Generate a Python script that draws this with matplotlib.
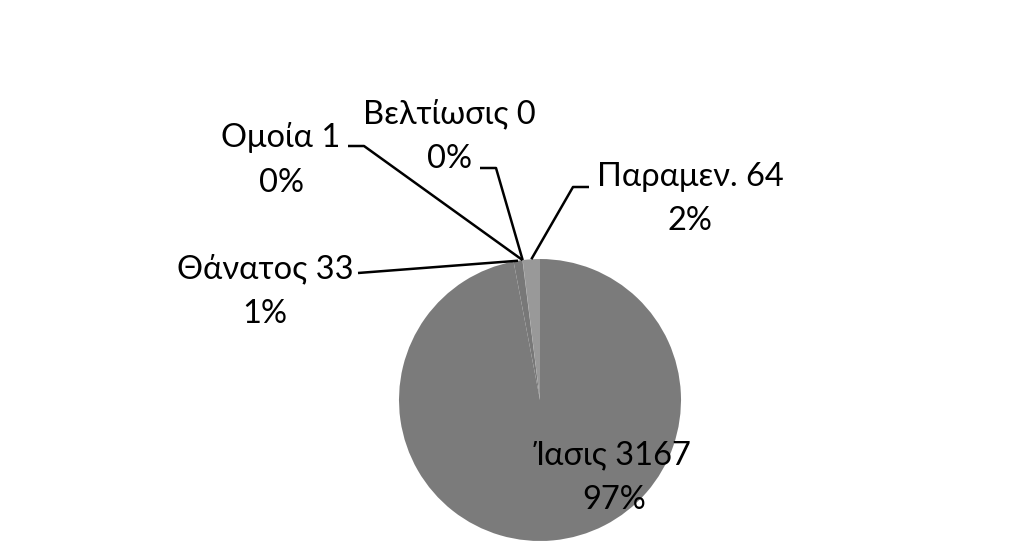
import numpy as np
import matplotlib.pyplot as plt

plt.rcParams['font.family'] = ['Lato', 'DejaVu Sans']

# data (Excel order, clockwise from 12 o'clock)
categories = ['Ίασις', 'Θάνατος', 'Ομοία', 'Βελτίωσις', 'Παραμεν.']
values = [3167, 33, 1, 0, 64]
colors = ['#7b7b7b', '#787878', '#7b7b7b', '#7b7b7b', '#999999']

W, H = 1023, 545
fig = plt.figure(figsize=(W / 100, H / 100), dpi=100)
ax = fig.add_axes([0, 0, 1, 1])

cx, cy, r = 540, H - 400, 141
wedges, _ = ax.pie(values, colors=colors, startangle=90, counterclock=False,
                   center=(cx, cy), radius=r, frame=True,
                   wedgeprops=dict(linewidth=0))
ax.set_xlim(0, W)
ax.set_ylim(0, H)
ax.set_aspect('equal')
ax.axis('off')

total = sum(values)
pcts = [f'{round(v / total * 100):.0f}%' for v in values]


def edge_point(w):
    a = np.deg2rad((w.theta1 + w.theta2) / 2)
    return cx + r * np.cos(a), cy + r * np.sin(a)


# label layout in pixel coords (y from top): text centre, leader elbow points
layout = {
    'Θάνατος': ((265, 291), [(358, 273)]),
    'Ομοία': ((281, 160), [(348, 146), (364, 146)]),
    'Βελτίωσις': ((449, 136), [(480, 168), (496, 168)]),
    'Παραμεν.': ((690, 199), [(589, 187), (573, 187)]),
}

fs = 23.5
ls = 1.6
for name, val, pct, w in zip(categories, values, pcts, wedges):
    label = f'{name} {val}\n{pct}'
    if name == 'Ίασις':
        ax.text(614, H - 478, label, ha='center', va='center', fontsize=fs,
                color='black', linespacing=ls)
        continue
    (tx, ty), elbow = layout[name]
    ax.text(tx, H - ty, label, ha='center', va='center', fontsize=fs,
            color='black', linespacing=ls)
    ex, ey = edge_point(w)
    xs = [p[0] for p in elbow] + [ex]
    ys = [H - p[1] for p in elbow] + [ey]
    ax.plot(xs, ys, color='black', lw=1.8, solid_capstyle='butt')

fig.savefig('out.png', dpi=100, facecolor='white')
